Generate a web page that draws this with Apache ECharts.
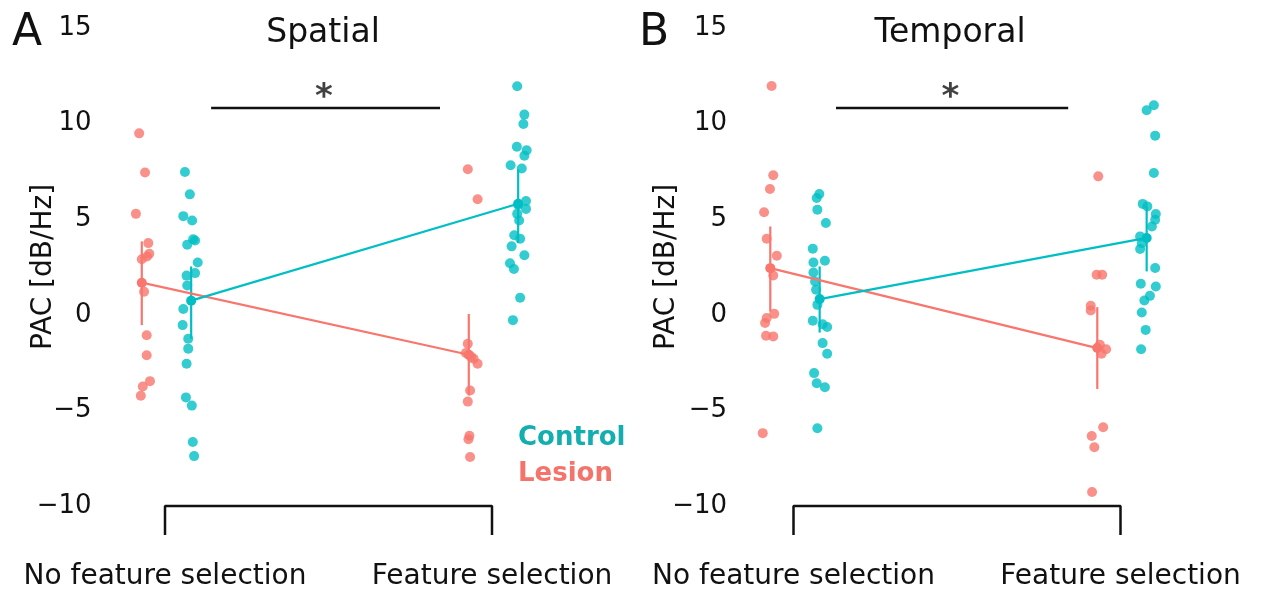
<!DOCTYPE html>
<html>
<head>
<meta charset="utf-8">
<script src="https://cdn.jsdelivr.net/npm/echarts@6/dist/echarts.min.js"></script>
<style>
  html, body { margin: 0; padding: 0; background: #fff; }
  #chart { width: 1262px; height: 593px; }
</style>
</head>
<body>
<div id="chart"></div>
<script>
// categories / ticks
const conditions = ["No feature selection", "Feature selection"];
const panelTitles = ["Spatial", "Temporal"];
const yTicks = [-10, -5, 0, 5, 10, 15];

// individual subjects, [x (jittered condition), PAC]
const spatialLesionNF = [[0.921, 9.49], [0.939, 7.44], [0.911, 5.28], [0.949, 3.75], [0.952, 3.19], [0.945, 3.05], [0.929, 2.91], [0.936, 1.21], [0.944, -1.07], [0.944, -2.12], [0.954, -3.47], [0.932, -3.75], [0.926, -4.23]];
const spatialLesionFS = [[1.926, 7.61], [1.956, 6.04], [1.926, -1.51], [1.920, -2.0], [1.936, -2.2], [1.944, -2.3], [1.956, -2.56], [1.933, -3.96], [1.926, -4.54], [1.931, -6.33], [1.928, -6.51], [1.933, -7.44]];
const spatialControlNF = [[1.061, 7.47], [1.076, 6.3], [1.056, 5.16], [1.083, 4.93], [1.092, 3.89], [1.086, 3.95], [1.068, 3.67], [1.1, 2.74], [1.092, 2.18], [1.066, 2.05], [1.068, 1.53], [1.056, 0.30], [1.054, -0.54], [1.071, -1.25], [1.071, -1.77], [1.066, -2.56], [1.064, -4.32], [1.082, -4.75], [1.085, -6.65], [1.089, -7.39]];
const spatialControlFS = [[2.077, 11.95], [2.099, 10.47], [2.096, 9.98], [2.076, 8.79], [2.106, 8.61], [2.099, 8.32], [2.057, 7.82], [2.091, 7.65], [2.104, 5.95], [2.080, 5.75], [2.104, 5.54], [2.077, 5.28], [2.083, 4.93], [2.068, 4.16], [2.086, 3.98], [2.060, 3.58], [2.099, 3.11], [2.055, 2.70], [2.067, 2.40], [2.086, 0.89], [2.064, -0.28]];

const temporalLesionNF = [[0.933, 11.97], [0.938, 7.3], [0.928, 6.58], [0.910, 5.36], [0.918, 3.98], [0.949, 3.09], [0.938, 2.06], [0.941, 0.05], [0.918, -0.17], [0.913, -0.43], [0.916, -1.1], [0.938, -1.13], [0.906, -6.19]];
const temporalLesionFS = [[1.932, 7.24], [1.927, 2.09], [1.944, 2.09], [1.909, 0.47], [1.909, 0.23], [1.937, -1.57], [1.956, -1.8], [1.942, -2.04], [1.947, -5.88], [1.912, -6.34], [1.920, -6.93], [1.913, -9.27]];
const temporalControlNF = [[1.079, 6.32], [1.071, 6.11], [1.073, 5.5], [1.099, 4.8], [1.059, 3.46], [1.061, 2.74], [1.096, 2.83], [1.061, 2.21], [1.066, 1.74], [1.069, 1.31], [1.073, 0.52], [1.059, -0.31], [1.089, -0.49], [1.103, -0.64], [1.089, -1.48], [1.103, -2.04], [1.063, -3.05], [1.071, -3.58], [1.096, -3.79], [1.073, -5.93]];
const temporalControlFS = [[2.102, 10.96], [2.080, 10.7], [2.106, 9.37], [2.102, 7.42], [2.068, 5.8], [2.082, 5.67], [2.108, 5.27], [2.106, 4.97], [2.096, 4.62], [2.060, 4.1], [2.065, 3.75], [2.060, 3.44], [2.106, 2.45], [2.062, 1.62], [2.108, 1.48], [2.090, 0.99], [2.073, 0.75], [2.065, 0.12], [2.077, -0.79], [2.063, -1.8]];

// group means and error bar limits, per condition
const spatialLesionMean = [1.68, -2.09];
const spatialLesionErr = [[-0.54, 3.84], [-4.22, 0.04]];
const spatialControlMean = [0.74, 5.81];
const spatialControlErr = [[-1.25, 2.53], [3.75, 7.61]];
const temporalLesionMean = [2.44, -1.74];
const temporalLesionErr = [[0.17, 4.62], [-3.88, 0.4]];
const temporalControlMean = [0.82, 4.02];
const temporalControlErr = [[-0.93, 2.53], [2.27, 5.67]];

// significance bar (from, to, height) and bracket levels
const sigBars = [[1.141, 1.841, 10.82], [1.130, 1.840, 10.82]];
const bracketY = [-10, -11.52];

const FONT = "DejaVu Sans";
const LESION = "#F8766D", CONTROL = "#00BFC4";
const offset = { Lesion: -0.071, Control: 0.08 };

var myChart = echarts.init(document.getElementById("chart"));

function panelSeries(g, groups, sig) {
  var out = [];
  groups.forEach(function (grp) {
    // raw points
    out.push({
      name: grp.name, type: "scatter", xAxisIndex: g, yAxisIndex: g,
      symbolSize: 10, z: 2,
      itemStyle: { color: grp.color, opacity: 0.8 },
      data: grp.nf.concat(grp.fs)
    });
  });
  groups.forEach(function (grp) {
    // error bars
    out.push({
      name: grp.name, type: "custom", xAxisIndex: g, yAxisIndex: g, z: 3,
      encode: { x: 0, y: [1, 2] },
      data: grp.err.map(function (e, i) { return [i + 1 + offset[grp.name], e[0], e[1]]; }),
      renderItem: function (params, api) {
        var a = api.coord([api.value(0), api.value(1)]);
        var b = api.coord([api.value(0), api.value(2)]);
        return { type: "line", shape: { x1: a[0], y1: a[1], x2: b[0], y2: b[1] },
                 style: { stroke: grp.color, lineWidth: 2.2 } };
      }
    });
    // means joined by a line
    out.push({
      name: grp.name, type: "line", xAxisIndex: g, yAxisIndex: g, z: 4,
      symbol: "circle", symbolSize: 10,
      lineStyle: { color: grp.color, width: 2.2 },
      itemStyle: { color: grp.color },
      data: grp.mean.map(function (m, i) { return [i + 1 + offset[grp.name], m]; })
    });
  });
  // bracket under the conditions
  out.push({
    type: "line", xAxisIndex: g, yAxisIndex: g, clip: false, symbol: "none", silent: true,
    lineStyle: { color: "#111", width: 2.5 },
    data: [[1, bracketY[1]], [1, bracketY[0]], [2, bracketY[0]], [2, bracketY[1]]]
  });
  // significance bar and star
  out.push({
    type: "line", xAxisIndex: g, yAxisIndex: g, clip: false, symbol: "none", silent: true,
    lineStyle: { color: "#111", width: 2.5 },
    data: [[sig[0], sig[2]], [sig[1], sig[2]]]
  });
  out.push({
    type: "scatter", xAxisIndex: g, yAxisIndex: g, symbolSize: 0, silent: true,
    label: { show: true, position: "inside", formatter: "*", fontFamily: FONT, fontSize: 34, fontWeight: "bold", color: "#111" },
    data: [[(sig[0] + sig[1]) / 2 - 0.005, sig[2] + 0.5]]
  });
  return out;
}

var yAxisBase = {
  type: "value", min: -10, max: 15, interval: 5,
  axisLine: { show: false }, axisTick: { show: false }, splitLine: { show: false },
  name: "PAC [dB/Hz]", nameLocation: "middle", nameMoveOverlap: false,
  nameTextStyle: { fontFamily: FONT, fontSize: 28, color: "#111" },
  axisLabel: {
    fontFamily: FONT, fontSize: 26, color: "#111",
    formatter: function (v) { return v < 0 ? "\u2212" + Math.abs(v) : String(v); }
  }
};

var xAxisBase = {
  type: "value", min: 0.8, max: 2.2,
  axisLine: { show: false }, axisTick: { show: false }, splitLine: { show: false },
  axisLabel: {
    customValues: [1, 2], margin: 57,
    fontFamily: FONT, fontSize: 28, color: "#111",
    formatter: function (v) { return conditions[Math.round(v) - 1] || ""; }
  }
};

var option = {
  animation: false,
  grid: [
    { left: 99.6, top: 28, width: 457.8, height: 478 },
    { left: 728.1, top: 28, width: 457.8, height: 478 }
  ],
  xAxis: [
    Object.assign({}, xAxisBase, { gridIndex: 0 }),
    Object.assign({}, xAxisBase, { gridIndex: 1 })
  ],
  yAxis: [
    Object.assign({}, yAxisBase, { gridIndex: 0, nameGap: 42,
      axisLabel: Object.assign({}, yAxisBase.axisLabel, { margin: 8 }) }),
    Object.assign({}, yAxisBase, { gridIndex: 1, nameGap: 47,
      axisLabel: Object.assign({}, yAxisBase.axisLabel, { margin: 1 }) })
  ],
  legend: {
    orient: "vertical", left: 508, top: 420, itemWidth: 0, itemHeight: 0, itemGap: 10,
    selectedMode: false,
    textStyle: { fontFamily: FONT, fontSize: 26, fontWeight: "bold" },
    data: [
      { name: "Control", textStyle: { color: "#12AEB0" } },
      { name: "Lesion", textStyle: { color: "#F4736A" } }
    ]
  },
  graphic: [
    { type: "text", x: 27, y: 34, style: { text: "A", font: "44px " + FONT, fill: "#111", textAlign: "center", textVerticalAlign: "middle" } },
    { type: "text", x: 654, y: 34, style: { text: "B", font: "44px " + FONT, fill: "#111", textAlign: "center", textVerticalAlign: "middle" } },
    { type: "text", x: 323, y: 33, style: { text: panelTitles[0], font: "33px " + FONT, fill: "#111", textAlign: "center", textVerticalAlign: "middle" } },
    { type: "text", x: 950, y: 33, style: { text: panelTitles[1], font: "33px " + FONT, fill: "#111", textAlign: "center", textVerticalAlign: "middle" } }
  ],
  series: [].concat(
    panelSeries(0, [
      { name: "Lesion", color: LESION, nf: spatialLesionNF, fs: spatialLesionFS, mean: spatialLesionMean, err: spatialLesionErr },
      { name: "Control", color: CONTROL, nf: spatialControlNF, fs: spatialControlFS, mean: spatialControlMean, err: spatialControlErr }
    ], sigBars[0]),
    panelSeries(1, [
      { name: "Lesion", color: LESION, nf: temporalLesionNF, fs: temporalLesionFS, mean: temporalLesionMean, err: temporalLesionErr },
      { name: "Control", color: CONTROL, nf: temporalControlNF, fs: temporalControlFS, mean: temporalControlMean, err: temporalControlErr }
    ], sigBars[1])
  )
};

myChart.setOption(option);
</script>
</body>
</html>
